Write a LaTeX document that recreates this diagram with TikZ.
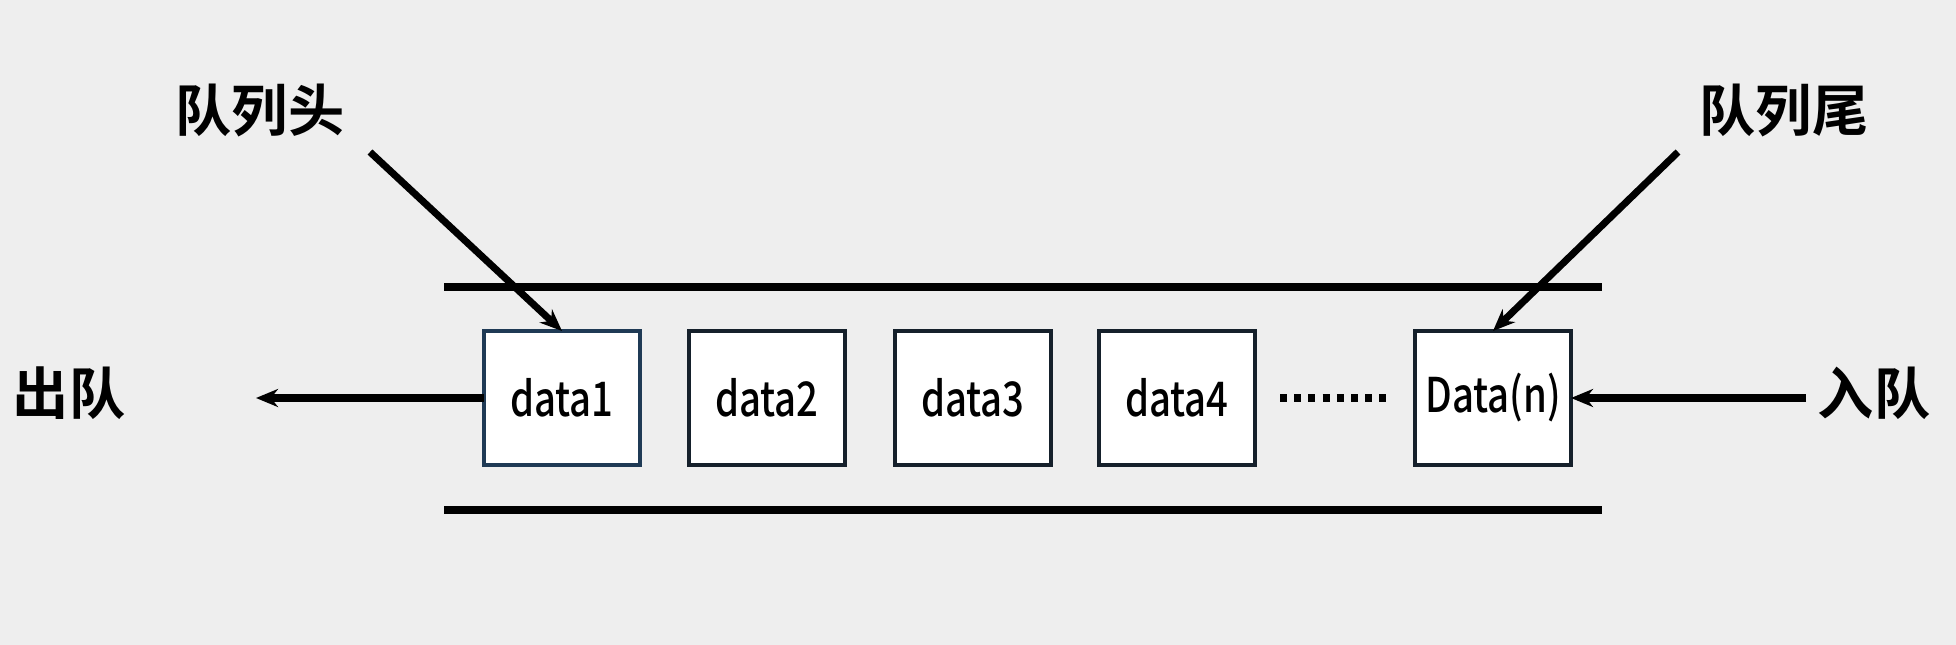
\documentclass[tikz,border=0pt]{standalone}
\usepackage{fontspec}
\usepackage{graphicx}
\setmainfont{Noto Sans CJK SC}[BoldFont={Noto Sans CJK SC Medium}]
\newfontfamily\cjk{Noto Sans CJK SC}[BoldFont={Noto Sans CJK SC Bold}]
\usetikzlibrary{arrows.meta}
\definecolor{bg}{HTML}{EEEEEE}
\definecolor{boxline}{HTML}{1F3A55}
\definecolor{boxline2}{HTML}{15202B}
\tikzset{
  dbox/.style={draw=boxline2, line width=2.6pt, fill=white, minimum width=3.9cm, minimum height=3.35cm, inner sep=0pt, outer sep=0pt, font=\bfseries\fontsize{34}{40}\selectfont},
  lbl/.style={font=\cjk\bfseries\fontsize{40}{48}\selectfont, inner sep=0pt},
  arr/.style={line width=5pt, -{Stealth[length=0.55cm,width=0.45cm]}},
  rail/.style={line width=5pt},
}
\begin{document}
\begin{tikzpicture}[x=0.025cm,y=-0.025cm]
\fill[bg] (0,0) rectangle (1956,645);
\useasboundingbox (0,0) rectangle (1956,645);
% rails
\coordinate (rtl) at (444,287); \coordinate (rtr) at (1602,287);
\coordinate (rbl) at (444,510); \coordinate (rbr) at (1602,510);
\draw[rail] (rtl) -- (rtr);
\draw[rail] (rbl) -- (rbr);
% boxes
\node[dbox, draw=boxline] (d1) at (562,398) {\scalebox{0.8}[1]{data1}};
\node[dbox] (d2) at (767,398) {\scalebox{0.8}[1]{data2}};
\node[dbox] (d3) at (973,398) {\scalebox{0.8}[1]{data3}};
\node[dbox] (d4) at (1177,398) {\scalebox{0.8}[1]{data4}};
\node[dbox] (dn) at (1493,398) {\scalebox{0.8}[1]{Data(n)}};
% dots
\coordinate (dots1) at (1280,398); \coordinate (dots2) at (1386,398);
\draw[line width=5pt, dash pattern=on 5pt off 5.1pt] (dots1) -- (dots2);
% labels
\node[lbl] (head) at (260,110) {队列头};
\node[lbl] (tail) at (1784,110) {队列尾};
\node[lbl] (out) at (69,393) {出队};
\node[lbl] (in) at (1874,393) {入队};
% arrows
\coordinate (hs) at (370,152);
\coordinate (ts) at (1678,152);
\coordinate (outtip) at (256,398);
\coordinate (intail) at (1806,398);
\draw[arr] (hs) -- (d1.north);
\draw[arr] (ts) -- (dn.north);
\draw[arr] (d1.west) -- (outtip);
\draw[arr] (intail) -- (dn.east);
\end{tikzpicture}
\end{document}
